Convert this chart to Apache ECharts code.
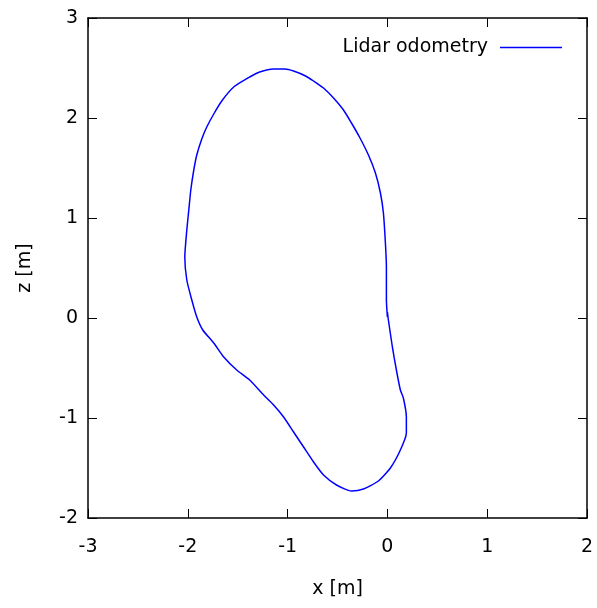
<!DOCTYPE html>
<html>
<head>
<meta charset="utf-8">
<script src="https://cdn.jsdelivr.net/npm/echarts@6/dist/echarts.min.js"></script>
<style>
html, body { margin: 0; padding: 0; background: #fff; }
#chart { width: 597px; height: 608px; }
</style>
</head>
<body>
<div id="chart"></div>
<script>
var chart = echarts.init(document.getElementById("chart"));

/* trajectory, x and z in metres */
var odomX = [0.00, -0.01, -0.01, -0.02, -0.04, -0.07, -0.12, -0.19, -0.28, -0.36, -0.44, -0.54, -0.64, -0.74,
    -0.82, -0.94, -1.03, -1.14, -1.28, -1.38, -1.54, -1.66, -1.74, -1.81, -1.86, -1.91, -1.94, -1.97,
    -1.99, -2.01, -2.03, -2.01, -1.96, -1.91, -1.85, -1.74, -1.64, -1.51, -1.38, -1.24, -1.14, -1.04,
    -0.94, -0.84, -0.74, -0.64, -0.51, -0.36, -0.24, -0.09, 0.03, 0.13, 0.19, 0.19, 0.16, 0.13,
    0.09, 0.05, 0.01, 0.00, 0.00];
var odomZ = [0.01, 0.18, 0.51, 0.75, 1.05, 1.25, 1.45, 1.63, 1.81, 1.95, 2.08, 2.20, 2.30, 2.37,
    2.42, 2.47, 2.49, 2.49, 2.46, 2.41, 2.31, 2.17, 2.04, 1.91, 1.79, 1.63, 1.48, 1.28,
    1.08, 0.88, 0.61, 0.38, 0.18, 0.01, -0.12, -0.25, -0.39, -0.52, -0.62, -0.77, -0.87, -0.99,
    -1.14, -1.29, -1.44, -1.57, -1.67, -1.73, -1.71, -1.63, -1.50, -1.32, -1.15, -0.99, -0.80, -0.72,
    -0.52, -0.29, -0.02, 0.06, 0.01];

var xTicks = [-3, 2];
var zTicks = [-2, 3];

var odomData = [];
for (var i = 0; i < odomX.length; i++) {
    odomData.push([odomX[i], odomZ[i]]);
}

var fontName = 'DejaVu Sans';

function frameAxis(pos, lo, hi, showLabels) {
    return {
        type: 'value',
        position: pos,
        min: lo,
        max: hi,
        interval: 1,
        axisLine: { show: true, onZero: false, lineStyle: { color: '#000', width: 1.5 } },
        axisTick: { show: true, inside: true, length: 9, lineStyle: { color: '#000', width: 1 } },
        axisLabel: { show: showLabels, color: '#000', fontSize: 19, fontFamily: fontName },
        splitLine: { show: false }
    };
}

var xBottom = frameAxis('bottom', xTicks[0], xTicks[1], true);
xBottom.axisLabel.margin = 20;
xBottom.name = 'x [m]';
xBottom.nameLocation = 'middle';
xBottom.nameGap = 62;
xBottom.nameTextStyle = { color: '#000', fontSize: 19, fontFamily: fontName };

var yLeft = frameAxis('left', zTicks[0], zTicks[1], true);
yLeft.axisLabel.margin = 10;
yLeft.name = 'z [m]';
yLeft.nameLocation = 'middle';
yLeft.nameGap = 53;
yLeft.nameTextStyle = { color: '#000', fontSize: 19, fontFamily: fontName };

var option = {
    animation: false,
    backgroundColor: '#fff',
    grid: { left: 88, right: 10, top: 18, bottom: 90 },
    legend: {
        right: 30,
        top: 33,
        align: 'right',
        icon: 'rect',
        itemWidth: 62,
        itemHeight: 1.5,
        textStyle: { color: '#000', fontSize: 19, fontFamily: fontName, padding: [0, 7, 0, 0] },
        data: ['Lidar odometry']
    },
    xAxis: [xBottom, frameAxis('top', xTicks[0], xTicks[1], false)],
    yAxis: [yLeft, frameAxis('right', zTicks[0], zTicks[1], false)],
    series: [{
        name: 'Lidar odometry',
        type: 'line',
        showSymbol: false,
        symbol: 'none',
        smooth: 0.2,
        itemStyle: { color: '#0000ff' },
        lineStyle: { color: '#0000ff', width: 1.5 },
        data: odomData
    }]
};

chart.setOption(option);
</script>
</body>
</html>
